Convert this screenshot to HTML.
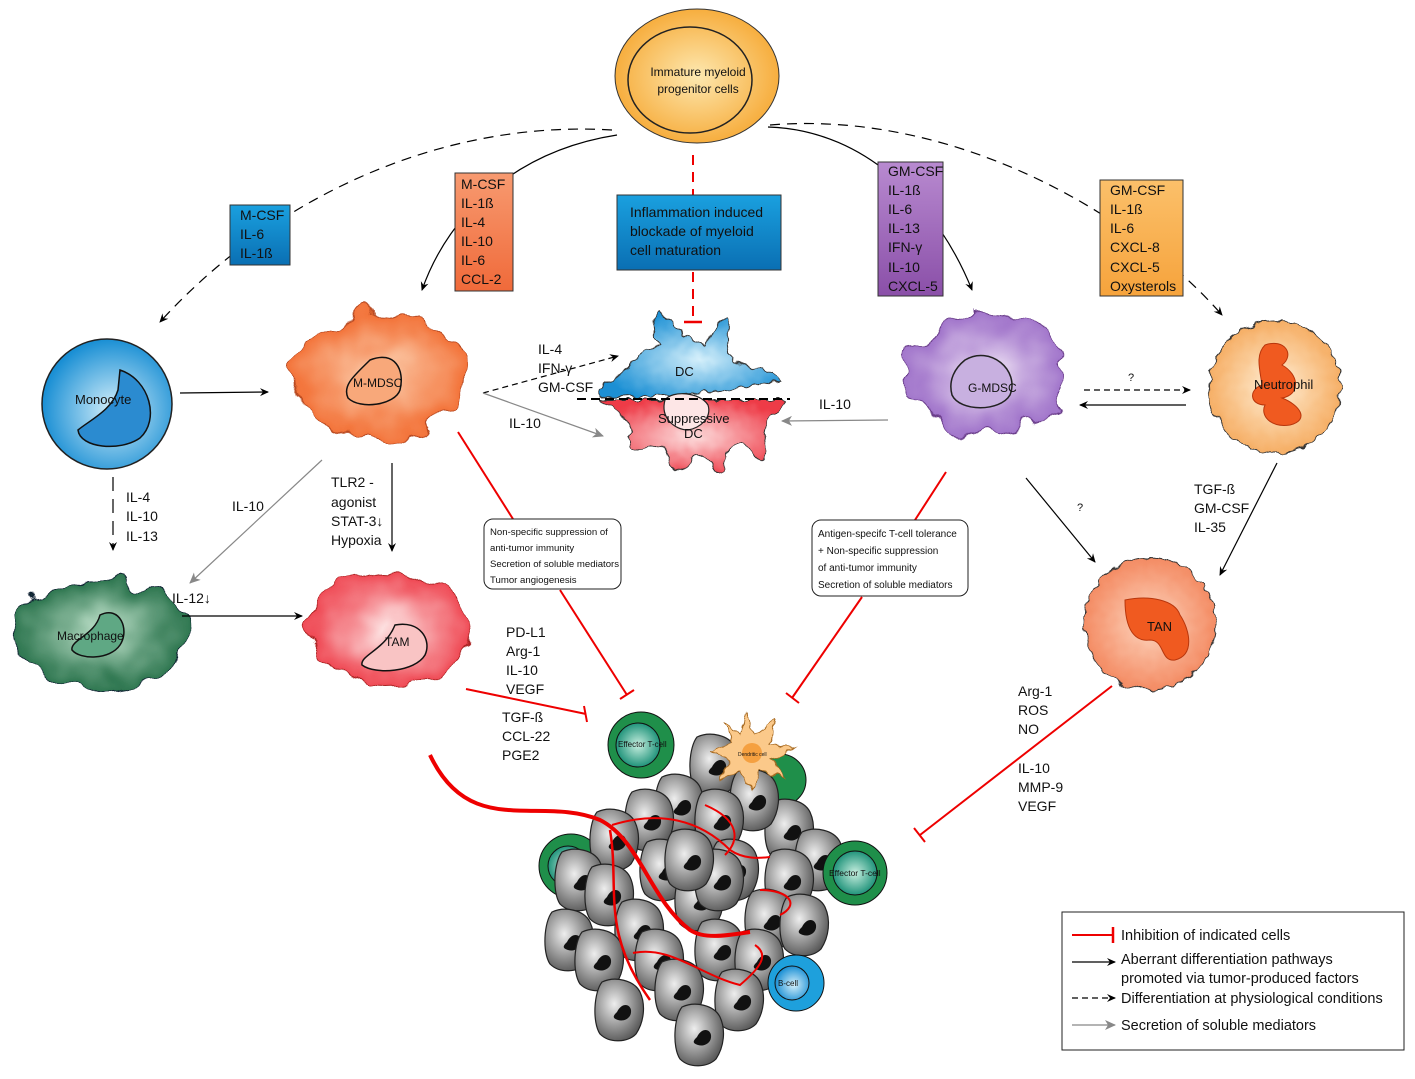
<!DOCTYPE html>
<html><head><meta charset="utf-8"><style>
html,body{margin:0;padding:0;background:#fff;}
svg{display:block;font-family:"Liberation Sans",sans-serif;}
text{fill:#111;}
</style></head><body>
<svg width="1415" height="1079" viewBox="0 0 1415 1079" xmlns="http://www.w3.org/2000/svg">
<defs>
<filter id="wob" x="-20%" y="-20%" width="140%" height="140%">
<feTurbulence type="fractalNoise" baseFrequency="0.035" numOctaves="2" seed="3"/>
<feDisplacementMap in="SourceGraphic" scale="34" xChannelSelector="R" yChannelSelector="G"/>
</filter>
<filter id="wob2" x="-20%" y="-20%" width="140%" height="140%">
<feTurbulence type="fractalNoise" baseFrequency="0.12" numOctaves="1" seed="5"/>
<feDisplacementMap in="SourceGraphic" scale="10" xChannelSelector="R" yChannelSelector="G"/>
</filter>
<radialGradient id="gOr" cx="50%" cy="50%" r="55%"><stop offset="0" stop-color="#fde8b0"/><stop offset="1" stop-color="#f6a833"/></radialGradient>
<radialGradient id="gBl" cx="55%" cy="55%" r="55%"><stop offset="0" stop-color="#d6f0fb"/><stop offset="1" stop-color="#1a8fd4"/></radialGradient>
<radialGradient id="gMM" cx="50%" cy="50%" r="55%"><stop offset="0" stop-color="#fcd0b0"/><stop offset="1" stop-color="#f26a2e"/></radialGradient>
<radialGradient id="gGM" cx="50%" cy="50%" r="55%"><stop offset="0" stop-color="#eadcf2"/><stop offset="1" stop-color="#9a6bc7"/></radialGradient>
<radialGradient id="gMac" cx="50%" cy="50%" r="55%"><stop offset="0" stop-color="#b7dcc4"/><stop offset="1" stop-color="#1f6b43"/></radialGradient>
<radialGradient id="gTAM" cx="50%" cy="50%" r="55%"><stop offset="0" stop-color="#fde0e0"/><stop offset="1" stop-color="#ee3b47"/></radialGradient>
<radialGradient id="gNeu" cx="50%" cy="50%" r="55%"><stop offset="0" stop-color="#fff0d8"/><stop offset="1" stop-color="#f5a85a"/></radialGradient>
<radialGradient id="gTAN" cx="50%" cy="50%" r="55%"><stop offset="0" stop-color="#fdd6c0"/><stop offset="1" stop-color="#f3845a"/></radialGradient>
<radialGradient id="gGray" cx="40%" cy="40%" r="65%"><stop offset="0" stop-color="#eeeeee"/><stop offset="1" stop-color="#555"/></radialGradient>
<radialGradient id="gGr" cx="50%" cy="50%" r="55%"><stop offset="0" stop-color="#c8efe0"/><stop offset="1" stop-color="#0f8a70"/></radialGradient>
<linearGradient id="bBl" x1="0" y1="0" x2="0" y2="1"><stop offset="0" stop-color="#1aa0df"/><stop offset="1" stop-color="#0a6fb3"/></linearGradient>
<linearGradient id="bOr" x1="0" y1="0" x2="0" y2="1"><stop offset="0" stop-color="#f79a70"/><stop offset="1" stop-color="#f06a3a"/></linearGradient>
<linearGradient id="bPu" x1="0" y1="0" x2="0" y2="1"><stop offset="0" stop-color="#b88ad0"/><stop offset="1" stop-color="#8a4fa8"/></linearGradient>
<linearGradient id="bYe" x1="0" y1="0" x2="0" y2="1"><stop offset="0" stop-color="#fbc06a"/><stop offset="1" stop-color="#f6a33c"/></linearGradient>
<marker id="ab" markerWidth="10" markerHeight="10" refX="8" refY="5" orient="auto" markerUnits="userSpaceOnUse"><path d="M0,1 L9,5 L0,9 L3,5z" fill="#000"/></marker>
<marker id="ag" markerWidth="12" markerHeight="12" refX="10" refY="6" orient="auto" markerUnits="userSpaceOnUse"><path d="M0,1 L11,6 L0,11 L3,6z" fill="#888"/></marker>
<g id="cell"><path d="M-18,-28 C-5,-34 14,-30 20,-18 C26,-5 24,12 16,24 C8,32 -10,34 -20,24 C-28,12 -26,-18 -18,-28z" fill="url(#gGray)" stroke="#222" stroke-width="1.2"/><path d="M-3,2 C2,-8 10,-6 11,0 C12,8 4,12 -2,10 C-8,8 -7,6 -3,2z" fill="#111"/></g>
</defs>

<ellipse cx="697" cy="76" rx="82" ry="67" fill="url(#gOr)" stroke="#333" stroke-width="1"/>
<ellipse cx="690" cy="80" rx="62" ry="53" fill="none" stroke="#222" stroke-width="1.5"/>
<text x="698" y="76" font-size="12" text-anchor="middle">Immature myeloid</text>
<text x="698" y="93" font-size="12" text-anchor="middle">progenitor cells</text>

<path d="M612,130 C450,120 280,190 160,322" fill="none" stroke="#000" stroke-width="1.2" stroke-dasharray="10,7" marker-end="url(#ab)"/>
<path d="M617,135 C520,150 450,210 422,290" fill="none" stroke="#000" stroke-width="1.2" marker-end="url(#ab)"/>
<path d="M768,127 C870,130 940,210 972,290" fill="none" stroke="#000" stroke-width="1.2" marker-end="url(#ab)"/>
<path d="M770,125 C950,110 1130,210 1222,315" fill="none" stroke="#000" stroke-width="1.2" stroke-dasharray="10,7" marker-end="url(#ab)"/>
<line x1="693" y1="155" x2="693" y2="196" stroke="#e00" stroke-width="2" stroke-dasharray="10,7"/>
<line x1="693" y1="272" x2="693" y2="322" stroke="#e00" stroke-width="2" stroke-dasharray="10,7"/>
<line x1="684" y1="322" x2="702" y2="322" stroke="#e00" stroke-width="2.5"/>

<rect x="617" y="195" width="164" height="75" fill="url(#bBl)" stroke="#333"/>
<text font-size="14"><tspan x="630" y="217">Inflammation induced</tspan><tspan x="630" y="236">blockade of myeloid</tspan><tspan x="630" y="255">cell maturation</tspan></text>
<rect x="230" y="205" width="60" height="60" fill="url(#bBl)" stroke="#333"/>
<text font-size="14"><tspan x="240" y="220">M-CSF</tspan><tspan x="240" y="239">IL-6</tspan><tspan x="240" y="258">IL-1ß</tspan></text>
<rect x="455" y="173" width="58" height="118" fill="url(#bOr)" stroke="#333"/>
<text font-size="14"><tspan x="461" y="189">M-CSF</tspan><tspan x="461" y="208">IL-1ß</tspan><tspan x="461" y="227">IL-4</tspan><tspan x="461" y="246">IL-10</tspan><tspan x="461" y="265">IL-6</tspan><tspan x="461" y="284">CCL-2</tspan></text>
<rect x="878" y="162" width="65" height="134" fill="url(#bPu)" stroke="#333"/>
<text font-size="14"><tspan x="888" y="176">GM-CSF</tspan><tspan x="888" y="195">IL-1ß</tspan><tspan x="888" y="214">IL-6</tspan><tspan x="888" y="233">IL-13</tspan><tspan x="888" y="252">IFN-γ</tspan><tspan x="888" y="272">IL-10</tspan><tspan x="888" y="291">CXCL-5</tspan></text>
<rect x="1100" y="180" width="83" height="116" fill="url(#bYe)" stroke="#333"/>
<text font-size="14"><tspan x="1110" y="195">GM-CSF</tspan><tspan x="1110" y="214">IL-1ß</tspan><tspan x="1110" y="233">IL-6</tspan><tspan x="1110" y="252">CXCL-8</tspan><tspan x="1110" y="272">CXCL-5</tspan><tspan x="1110" y="291">Oxysterols</tspan></text>

<circle cx="107" cy="404" r="65" fill="url(#gBl)" stroke="#222" stroke-width="1.5"/>
<path d="M120,370 C150,380 160,420 140,438 C120,452 80,448 78,430 C90,420 112,410 118,390z" fill="#2b8bd0" stroke="#111" stroke-width="1.5"/>
<text x="75" y="404" font-size="13">Monocyte</text>

<g filter="url(#wob)"><ellipse cx="380" cy="375" rx="90" ry="62" fill="url(#gMM)" stroke="#b84a20" stroke-width="1"/></g>
<path d="M370,360 C395,350 405,370 400,390 C395,405 360,410 348,398 C342,385 355,375 370,360z" fill="#f8a87a" stroke="#111" stroke-width="1.5"/>
<text x="353" y="387" font-size="12">M-MDSC</text>

<g filter="url(#wob2)">
<path d="M598,388 C630,370 640,350 660,345 C650,330 652,315 660,312 C675,330 690,340 705,345 C712,330 720,320 728,318 C728,340 725,355 740,365 C760,370 778,372 782,380 C760,385 720,395 600,398z" fill="url(#gBl)" stroke="#333"/>
<path d="M600,400 L785,400 C780,410 760,420 765,445 C768,460 760,465 755,455 C745,440 735,440 728,448 C725,470 720,478 713,470 C705,455 698,450 690,460 C682,478 670,470 668,455 C665,440 650,445 640,450 C630,455 625,440 632,432 C630,420 620,412 600,400z" fill="url(#gTAM)" stroke="#333"/>
</g>
<path d="M665,400 C672,390 700,392 708,405 C712,418 700,428 688,430 C675,430 660,418 665,400z" fill="#fde6e6" stroke="#222" stroke-width="1.2"/>
<line x1="577" y1="399" x2="790" y2="399" stroke="#000" stroke-width="2" stroke-dasharray="9,5"/>
<text x="675" y="376" font-size="13">DC</text>
<text x="658" y="423" font-size="13">Suppressive</text>
<text x="684" y="438" font-size="13">DC</text>

<g filter="url(#wob)"><ellipse cx="985" cy="375" rx="78" ry="60" fill="url(#gGM)" stroke="#6a3d8a" stroke-width="1"/></g>
<path d="M965,360 C990,345 1020,370 1010,395 C1000,412 960,412 952,395 C948,380 955,368 965,360z" fill="#c8b0e0" stroke="#222" stroke-width="1.5"/>
<text x="968" y="392" font-size="12">G-MDSC</text>

<g filter="url(#wob2)"><circle cx="1275" cy="387" r="66" fill="url(#gNeu)" stroke="#333"/></g>
<path d="M1265,345 C1285,338 1295,355 1282,365 C1300,375 1300,395 1282,398 C1300,405 1310,420 1290,425 C1270,428 1260,415 1265,405 C1250,405 1248,390 1262,385 C1260,370 1255,355 1265,345z" fill="#f05a20" stroke="#b8360c"/>
<text x="1254" y="389" font-size="13">Neutrophil</text>

<g filter="url(#wob)"><ellipse cx="100" cy="633" rx="86" ry="56" fill="url(#gMac)" stroke="#123" stroke-width="1"/></g>
<path d="M100,615 C120,605 130,630 120,645 C110,660 80,660 72,650 C70,640 95,635 100,615z" fill="#5fa884" stroke="#111" stroke-width="1.5"/>
<text x="57" y="640" font-size="12">Macrophage</text>

<g filter="url(#wob)"><ellipse cx="390" cy="630" rx="80" ry="58" fill="url(#gTAM)" stroke="#a22" stroke-width="1"/></g>
<path d="M395,625 C420,620 432,640 425,655 C415,672 375,675 362,665 C360,655 385,650 395,625z" fill="#f9c4c4" stroke="#111" stroke-width="1.5"/>
<text x="385" y="646" font-size="12">TAM</text>

<g filter="url(#wob2)"><circle cx="1150" cy="624" r="66" fill="url(#gTAN)" stroke="#333"/></g>
<path d="M1125,600 C1150,595 1175,600 1180,615 C1190,630 1195,655 1175,660 C1160,662 1165,640 1150,640 C1135,642 1125,630 1125,600z" fill="#f05a20" stroke="#b8360c"/>
<text x="1147" y="631" font-size="13">TAN</text>

<line x1="180" y1="393" x2="268" y2="392" stroke="#000" stroke-width="1.2" marker-end="url(#ab)"/>
<line x1="483" y1="393" x2="618" y2="356" stroke="#000" stroke-width="1.2" stroke-dasharray="6,4" marker-end="url(#ab)"/>
<line x1="483" y1="393" x2="603" y2="436" stroke="#888" stroke-width="1.2" marker-end="url(#ag)"/>
<line x1="888" y1="420" x2="782" y2="421" stroke="#888" stroke-width="1.2" marker-end="url(#ag)"/>
<line x1="1084" y1="390" x2="1190" y2="390" stroke="#000" stroke-width="1.2" stroke-dasharray="6,4" marker-end="url(#ab)"/>
<line x1="1186" y1="405" x2="1080" y2="405" stroke="#000" stroke-width="1.2" marker-end="url(#ab)"/>
<line x1="113" y1="477" x2="113" y2="550" stroke="#000" stroke-width="1.2" stroke-dasharray="14,8" marker-end="url(#ab)"/>
<line x1="322" y1="460" x2="190" y2="583" stroke="#888" stroke-width="1.2" marker-end="url(#ag)"/>
<line x1="392" y1="463" x2="392" y2="551" stroke="#000" stroke-width="1.2" marker-end="url(#ab)"/>
<line x1="182" y1="616" x2="302" y2="616" stroke="#000" stroke-width="1.2" marker-end="url(#ab)"/>
<line x1="1026" y1="478" x2="1095" y2="562" stroke="#000" stroke-width="1.2" marker-end="url(#ab)"/>
<line x1="1277" y1="463" x2="1220" y2="575" stroke="#000" stroke-width="1.2" marker-end="url(#ab)"/>

<g stroke="#e00" stroke-width="2" fill="none">
<line x1="458" y1="432" x2="513" y2="519"/>
<line x1="560" y1="590" x2="627" y2="695"/>
<line x1="620" y1="699" x2="634" y2="690"/>
<line x1="946" y1="472" x2="915" y2="520"/>
<line x1="862" y1="597" x2="792" y2="698"/>
<line x1="786" y1="693" x2="799" y2="703"/>
<line x1="466" y1="689" x2="586" y2="714"/>
<line x1="584" y1="706" x2="587" y2="722"/>
<line x1="1112" y1="686" x2="920" y2="835"/>
<line x1="914" y1="828" x2="925" y2="842"/>
</g>

<rect x="484" y="519" width="137" height="70" rx="9" fill="#fff" stroke="#222"/>
<text font-size="9.6"><tspan x="490" y="535">Non-specific suppression of</tspan><tspan x="490" y="551">anti-tumor immunity</tspan><tspan x="490" y="567">Secretion of soluble mediators</tspan><tspan x="490" y="583">Tumor angiogenesis</tspan></text>
<rect x="812" y="520" width="156" height="76" rx="9" fill="#fff" stroke="#222"/>
<text font-size="10"><tspan x="818" y="537">Antigen-specifc  T-cell tolerance</tspan><tspan x="818" y="554">+ Non-specific suppression</tspan><tspan x="818" y="571">of anti-tumor immunity</tspan><tspan x="818" y="588">Secretion of soluble mediators</tspan></text>

<text font-size="14">
<tspan x="538" y="354">IL-4</tspan><tspan x="538" y="373">IFN-γ</tspan><tspan x="538" y="392">GM-CSF</tspan>
<tspan x="509" y="428">IL-10</tspan>
<tspan x="819" y="409">IL-10</tspan>
<tspan x="126" y="502">IL-4</tspan><tspan x="126" y="521">IL-10</tspan><tspan x="126" y="541">IL-13</tspan>
<tspan x="232" y="511">IL-10</tspan>
<tspan x="331" y="487">TLR2 -</tspan><tspan x="331" y="507">agonist</tspan><tspan x="331" y="526">STAT-3↓</tspan><tspan x="331" y="545">Hypoxia</tspan>
<tspan x="172" y="603">IL-12↓</tspan>
<tspan x="506" y="637">PD-L1</tspan><tspan x="506" y="656">Arg-1</tspan><tspan x="506" y="675">IL-10</tspan><tspan x="506" y="694">VEGF</tspan>
<tspan x="502" y="722">TGF-ß</tspan><tspan x="502" y="741">CCL-22</tspan><tspan x="502" y="760">PGE2</tspan>
<tspan x="1194" y="494">TGF-ß</tspan><tspan x="1194" y="513">GM-CSF</tspan><tspan x="1194" y="532">IL-35</tspan>
<tspan x="1018" y="696">Arg-1</tspan><tspan x="1018" y="715">ROS</tspan><tspan x="1018" y="734">NO</tspan>
<tspan x="1018" y="773">IL-10</tspan><tspan x="1018" y="792">MMP-9</tspan><tspan x="1018" y="811">VEGF</tspan>
</text>
<text x="1128" y="381" font-size="11">?</text>
<text x="1077" y="511" font-size="11">?</text>

<circle cx="641" cy="745" r="33" fill="#1f8f4a" stroke="#111"/><circle cx="638" cy="745" r="22" fill="url(#gGr)" stroke="#111"/>
<text x="618" y="747" font-size="8">Effector T-cell</text>
<circle cx="780" cy="780" r="26" fill="#1f8f4a" stroke="#111"/>
<circle cx="571" cy="866" r="32" fill="#1f8f4a" stroke="#111"/><circle cx="568" cy="866" r="20" fill="url(#gGr)" stroke="#111"/>
<g>
<use href="#cell" x="715" y="765"/><use href="#cell" x="790" y="830"/><use href="#cell" x="680" y="805"/><use href="#cell" x="755" y="800"/>
<use href="#cell" x="650" y="820"/><use href="#cell" x="615" y="840"/><use href="#cell" x="720" y="820"/><use href="#cell" x="820" y="860"/>
<use href="#cell" x="580" y="880"/><use href="#cell" x="665" y="870"/><use href="#cell" x="735" y="870"/><use href="#cell" x="790" y="880"/>
<use href="#cell" x="570" y="940"/><use href="#cell" x="610" y="895"/><use href="#cell" x="640" y="930"/><use href="#cell" x="700" y="900"/>
<use href="#cell" x="770" y="920"/><use href="#cell" x="805" y="925"/><use href="#cell" x="600" y="960"/><use href="#cell" x="660" y="960"/>
<use href="#cell" x="720" y="950"/><use href="#cell" x="760" y="960"/><use href="#cell" x="620" y="1010"/><use href="#cell" x="680" y="990"/>
<use href="#cell" x="740" y="1000"/><use href="#cell" x="700" y="1035"/><use href="#cell" x="720" y="880"/><use href="#cell" x="690" y="860"/>
</g>
<circle cx="855" cy="873" r="32" fill="#1f8f4a" stroke="#111"/><circle cx="855" cy="873" r="22" fill="url(#gGr)" stroke="#111"/>
<text x="829" y="876" font-size="8.5">Effector T-cell</text>
<circle cx="796" cy="983" r="28" fill="#1ea0dc" stroke="#111"/><circle cx="792" cy="983" r="17" fill="url(#gBl)" stroke="#111"/>
<text x="778" y="986" font-size="8">B-cell</text>
<g filter="url(#wob2)"><path d="M745,712 L755,735 L775,720 L770,745 L795,748 L772,760 L785,778 L760,770 L752,790 L740,772 L720,780 L730,760 L712,750 L732,743 L725,722 L740,735z" fill="#fbc98a" stroke="#a86a20"/></g>
<circle cx="752" cy="753" r="10" fill="#f5a040"/>
<text x="738" y="756" font-size="5">Dendritic cell</text>
<g stroke="#e00" fill="none">
<path d="M430,755 C470,840 540,795 600,820 C640,840 650,900 690,930 C705,940 730,935 750,932" stroke-width="4"/>
<path d="M610,830 C620,890 600,930 650,1000" stroke-width="2.5"/>
<path d="M612,825 C660,810 700,820 730,850 C745,860 760,858 770,857" stroke-width="2"/>
<path d="M633,953 C670,945 700,975 740,985 C760,968 770,955 755,945" stroke-width="2"/>
<path d="M705,805 C740,820 740,840 725,855" stroke-width="2"/>
<path d="M760,890 C790,890 800,905 780,915" stroke-width="2"/>
</g>

<rect x="1062" y="912" width="342" height="138" fill="#fff" stroke="#222"/>
<line x1="1072" y1="935" x2="1112" y2="935" stroke="#e00" stroke-width="2"/><line x1="1113" y1="927" x2="1113" y2="943" stroke="#e00" stroke-width="2.5"/>
<line x1="1072" y1="962" x2="1115" y2="962" stroke="#000" stroke-width="1.2" marker-end="url(#ab)"/>
<line x1="1072" y1="998" x2="1115" y2="998" stroke="#000" stroke-width="1.2" stroke-dasharray="6,4" marker-end="url(#ab)"/>
<line x1="1072" y1="1025" x2="1115" y2="1025" stroke="#888" stroke-width="1.2" marker-end="url(#ag)"/>
<text font-size="14.5"><tspan x="1121" y="940">Inhibition of indicated cells</tspan><tspan x="1121" y="964">Aberrant differentiation pathways</tspan><tspan x="1121" y="983">promoted via tumor-produced factors</tspan><tspan x="1121" y="1003">Differentiation at physiological conditions</tspan><tspan x="1121" y="1030">Secretion of soluble mediators</tspan></text>
</svg>
</body></html>
